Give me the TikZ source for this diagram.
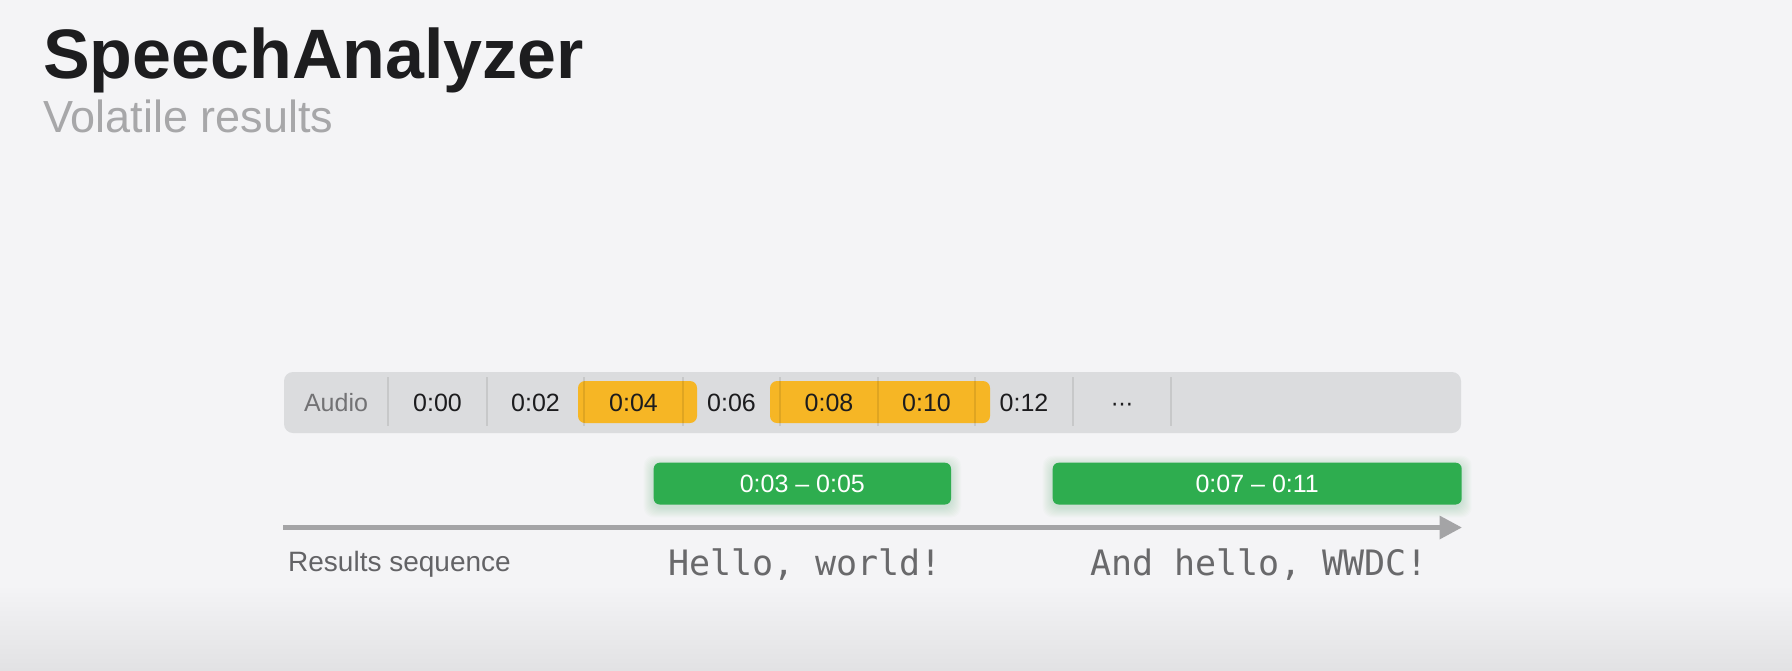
\documentclass[tikz,border=0pt]{standalone}
\usepackage{fontspec}
\setmainfont{Liberation Sans}
\newfontfamily\monofont{DejaVu Sans Mono}
\newfontfamily\symfont{DejaVu Sans}
\usetikzlibrary{arrows.meta}
\definecolor{bgc}{HTML}{F4F4F6}
\definecolor{bgbot}{HTML}{E2E2E4}
\definecolor{titlec}{HTML}{1D1D1F}
\definecolor{subc}{HTML}{A7A7A9}
\definecolor{barc}{HTML}{DBDCDE}
\definecolor{orangec}{HTML}{F6B625}
\definecolor{greenc}{HTML}{2EAD4F}
\definecolor{arrowc}{HTML}{A4A4A6}
\definecolor{timec}{HTML}{1C1C1E}
\definecolor{audioc}{HTML}{727274}
\definecolor{rsc}{HTML}{636366}
\definecolor{monoc}{HTML}{69696B}
\begin{document}
\begin{tikzpicture}[x=1pt,y=-1pt,
  lbl/.style={inner sep=0pt, anchor=base, font=\fontsize{25}{30}\selectfont, text=timec},
  orangebox/.style={fill=orangec, rounded corners=7pt, minimum height=42pt, inner sep=0pt},
  greenbox/.style={fill=greenc, rounded corners=6pt, minimum height=41.8pt, inner sep=0pt,
    text=white, font=\fontsize{25}{30}\selectfont},
  sepline/.style={draw=black, draw opacity=0.09, line width=2pt},
  monotext/.style={inner sep=0pt, anchor=base, text=monoc, font=\monofont\fontsize{35}{40}\selectfont},
  glow/.style={fill=greenc, fill opacity=0.02, rounded corners=10pt}
]
\useasboundingbox (0,0) rectangle (1792,670);
\fill[bgc] (0,0) rectangle (1792,670);
\shade[top color=bgc, bottom color=bgbot] (0,585) rectangle (1792,670);

% title
\node[anchor=base west, inner sep=0pt, text=titlec, font=\bfseries\fontsize{70}{80}\selectfont] (title) at (43,78) {SpeechAnalyzer};
\node[anchor=base west, inner sep=0pt, text=subc, font=\fontsize{45}{50}\selectfont] (subtitle) at (43,132) {Volatile results};

% audio bar
\node[fill=barc, rounded corners=9pt, minimum width=1177pt, minimum height=61pt, inner sep=0pt] (bar) at (872.5,402.5) {};
\node[orangebox, minimum width=119pt] (o1) at (637.5,402) {};
\node[orangebox, minimum width=220pt] (o2) at (880,402) {};
\foreach \sx in {388,487,584,683,780,878,975,1073,1171}
  \draw[sepline] (\sx,377) -- (\sx,426);

\node[lbl, text=audioc] (audio) at (336,411) {Audio};
\node[lbl] (t00) at (437.5,411) {0:00};
\node[lbl] (t02) at (535.5,411) {0:02};
\node[lbl] (t04) at (633.5,411) {0:04};
\node[lbl] (t06) at (731.5,411) {0:06};
\node[lbl] (t08) at (829,411) {0:08};
\node[lbl] (t10) at (926.5,411) {0:10};
\node[lbl] (t12) at (1024,411) {0:12};
\node[lbl, font=\symfont\fontsize{22}{26}\selectfont] (dots) at (1122,411) {⋯};

% glow under green boxes
\foreach \g in {1,...,10}{
  \fill[glow] (653.7-\g,462.7-\g+3) rectangle (951+\g,504.5+\g+3);
  \fill[glow] (1052.7-\g,462.7-\g+3) rectangle (1461.7+\g,504.5+\g+3);
}
\node[greenbox, minimum width=297.3pt] (g1) at (802.35,483.6) {0:03 – 0:05};
\node[greenbox, minimum width=409pt] (g2) at (1257.2,483.6) {0:07 – 0:11};

% results sequence arrow
\coordinate (rs) at (283,527.5);
\coordinate (re) at (1462,527.5);
\draw[line width=5pt, arrowc, -{Triangle[length=22.5pt,width=22.5pt]}] (rs) -- (re);

\node[anchor=base west, inner sep=0pt, text=rsc, font=\fontsize{28}{32}\selectfont] (rslabel) at (288,571) {Results sequence};
\node[monotext] (h1) at (805,575) {Hello, world!};
\node[monotext] (h2) at (1259,575) {And hello, WWDC!};
\end{tikzpicture}
\end{document}
